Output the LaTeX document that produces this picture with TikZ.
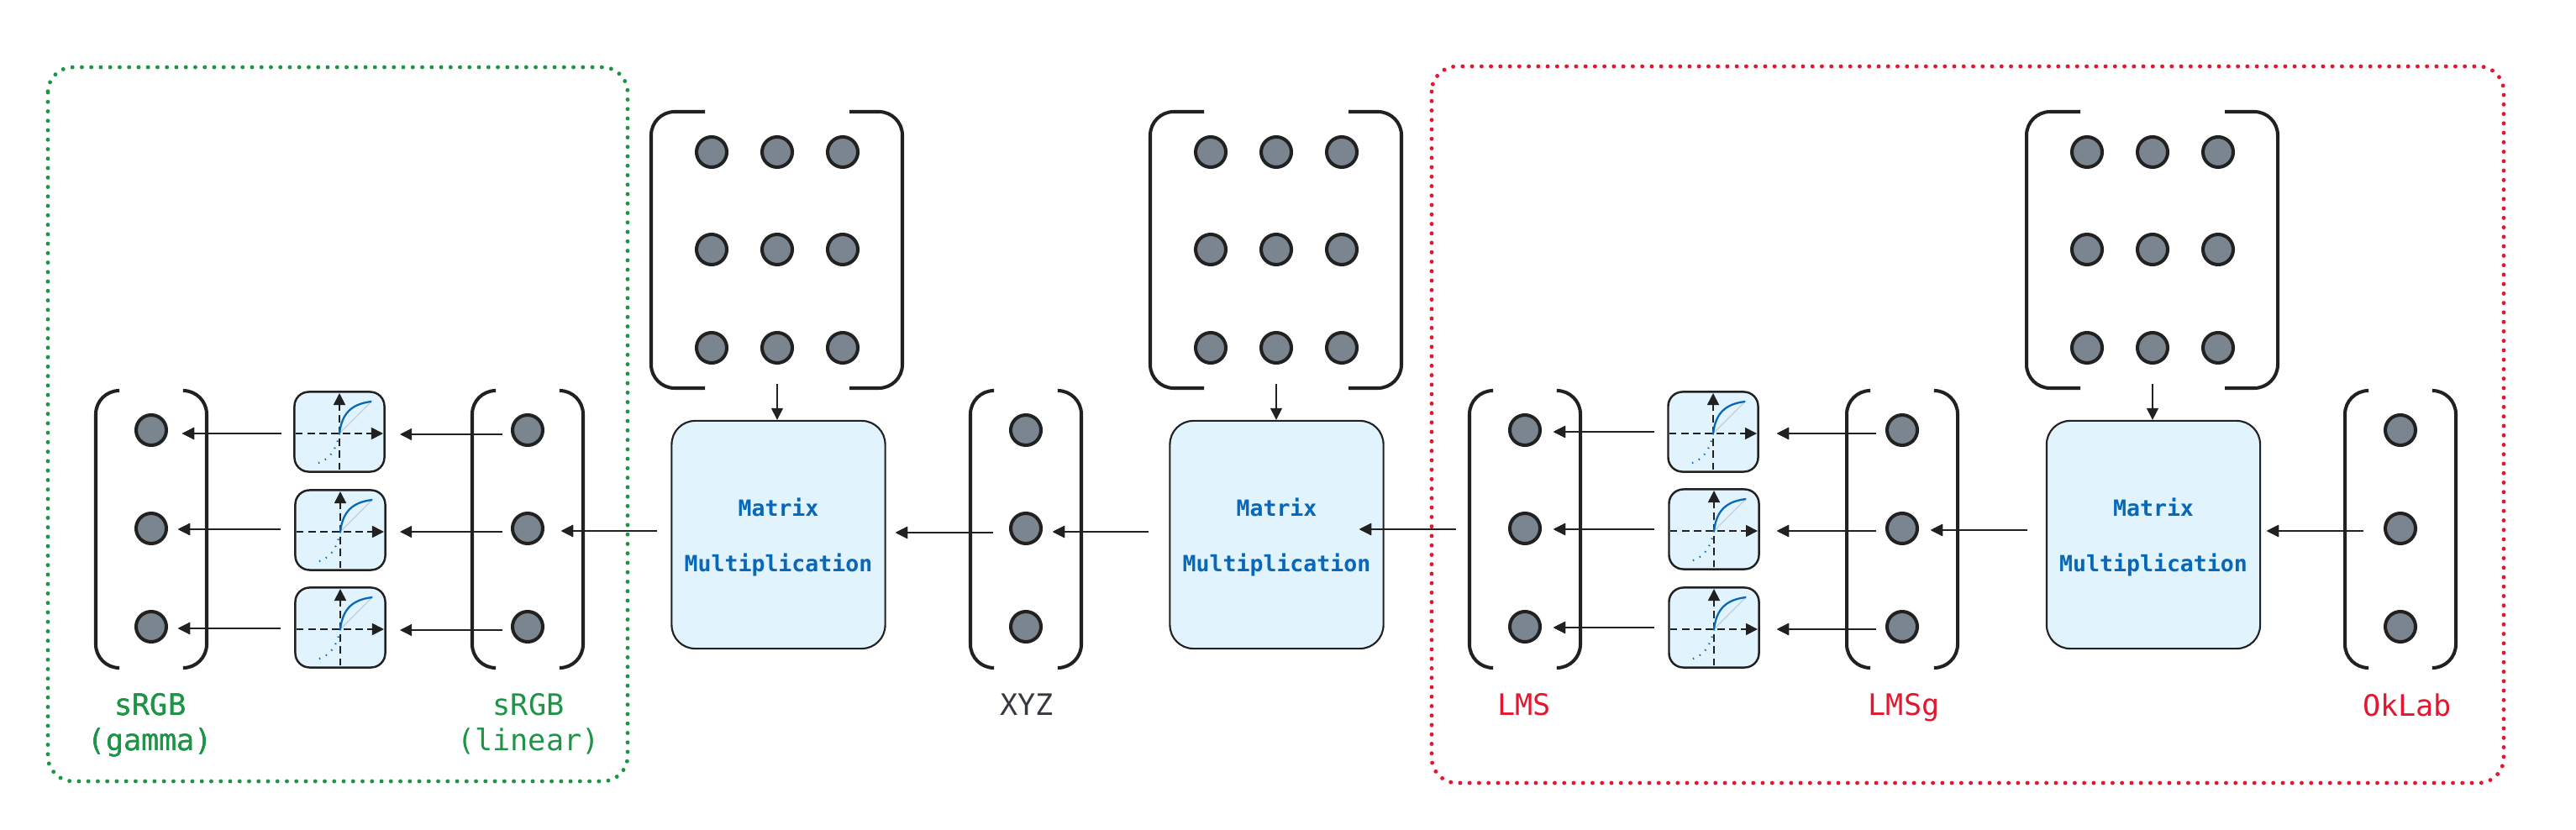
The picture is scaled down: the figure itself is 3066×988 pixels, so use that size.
\documentclass[tikz,border=0pt]{standalone}
\usepackage{fontspec}
\setmonofont{DejaVu Sans Mono}
\usetikzlibrary{arrows.meta,positioning,calc}
\definecolor{cInk}{HTML}{212121}
\definecolor{cDot}{HTML}{7B8590}
\definecolor{cFill}{HTML}{E1F3FD}
\definecolor{cBlue}{HTML}{0767B8}
\definecolor{cGreen}{HTML}{1E9447}
\definecolor{cRed}{HTML}{E3172F}
\definecolor{cSlate}{HTML}{343A40}
\definecolor{cDiag}{HTML}{C5CDD5}
\tikzset{
  x=0.01cm, y=-0.01cm,
  >={Triangle[length=0.14cm, width=0.14cm]},
  font=\ttfamily,
  entry/.style={circle, draw=cInk, fill=cDot, line width=1.15pt, minimum size=0.36cm, inner sep=0pt},
  mulbox/.style={draw=cInk, fill=cFill, rounded corners=0.28cm, line width=0.6pt,
                 minimum width=2.54cm, minimum height=2.71cm, inner sep=0pt},
  mullbl/.style={font=\ttfamily\bfseries\fontsize{7.55pt}{9pt}\selectfont, text=cBlue, anchor=base, inner sep=0pt},
  curvebox/.style={draw=cInk, fill=cFill, rounded corners=0.17cm, line width=0.7pt,
                   minimum width=1.07cm, minimum height=0.95cm, inner sep=0pt},
  brk/.style={draw=cInk, line width=1.15pt, rounded corners=0.28cm},
  arr/.style={->, draw=cInk, line width=0.35pt},
  axis/.style={->, draw=cInk, line width=0.5pt, dash pattern=on 2.4pt off 1.6pt},
  region/.style={line width=1.4pt, dash pattern=on 0pt off 3.2pt, line cap=round, rounded corners=0.3cm},
  veclbl/.style={font=\ttfamily\fontsize{10pt}{11.8pt}\selectfont, align=center, anchor=north, inner sep=0pt},
}
% one vector with brackets, dots named <name>1..3
\newcommand{\vecdots}[2]{%
  \draw[brk] (#2-40,465) -| (#2-66,795) -- (#2-40,795);
  \draw[brk] (#2+39,465) -- (#2+66,465) |- (#2+39,795);
  \foreach \i/\yy in {1/512,2/629,3/746}
    \node[entry] (#1\i) at (#2,\yy) {};
}
% 3x3 matrix with brackets
\newcommand{\matdots}[2]{%
  \draw[brk] (#2-86,133) -| (#2-150,462) -- (#2-86,462);
  \draw[brk] (#2+86,133) -- (#2+149,133) |- (#2+86,462);
  \foreach \r/\yy in {1/181,2/297,3/414}
    \foreach \c/\xx in {1/-78,2/0,3/78}
      \node[entry] (#1\r\c) at (#2+\xx,\yy) {};
}
% small transfer curve box
\newcommand{\curvebox}[3]{%
  \node[curvebox] (#1) at (#2,#3-2) {};
  \draw[draw=cDiag, line width=0.35pt] (#2,#3) -- (#2+39,#3-39);
  \draw[axis] (#2-52,#3) -- (#2+52,#3);
  \draw[axis] (#2,#3+43) -- (#2,#3-48);
  \draw[cBlue, line width=0.65pt] (#2,#3) .. controls (#2+3,#3-24) and (#2+14,#3-35) .. (#2+38,#3-38);
  \draw[cBlue, line width=0.6pt, dash pattern=on 0.4pt off 2.1pt] (#2,#3) .. controls (#2-4,#3+20) and (#2-12,#3+33) .. (#2-32,#3+37);
}
% free arrow between two named coordinates
\newcommand{\harrow}[4]{%
  \coordinate (#1s) at (#2,#4);
  \coordinate (#1e) at (#3,#4);
  \draw[arr] (#1s) -- (#1e);
}
\begin{document}
\begin{tikzpicture}
  \useasboundingbox (0,0) rectangle (3066,988);
  % regions
  \draw[region, draw=cGreen] (57,80) rectangle (747,930);
  \draw[region, draw=cRed] (1704,79) rectangle (2980,932);
  % vectors
  \vecdots{gam}{180}
  \vecdots{lin}{628}
  \vecdots{xyz}{1221}
  \vecdots{lms}{1815}
  \vecdots{lmg}{2264}
  \vecdots{okl}{2857}
  % matrices
  \matdots{ma}{925}
  \matdots{mb}{1519}
  \matdots{mc}{2562}
  % multiply boxes
  \node[mulbox] (mula) at (926.5,636.5) {};
  \node[mulbox] (mulb) at (1519.5,636.5) {};
  \node[mulbox] (mulc) at (2563,636.5) {};
  \foreach \m in {mula,mulb,mulc} {
    \node[mullbl] (\m t) at ($(\m)+(0,-22.5)$) {Matrix};
    \node[mullbl] (\m b) at ($(\m)+(0,43.5)$) {Multiplication};
  }
  % curves
  \curvebox{ca1}{404}{516}
  \curvebox{ca2}{405}{633}
  \curvebox{ca3}{405}{749}
  \curvebox{cb1}{2039}{516}
  \curvebox{cb2}{2040}{632}
  \curvebox{cb3}{2040}{749}
  % matrix to multiply
  \coordinate (mas) at (925,457);
  \coordinate (mbs) at (1519,457);
  \coordinate (mcs) at (2562,457);
  \draw[arr] (mas) -- (mula.north -| mas);
  \draw[arr] (mbs) -- (mulb.north -| mbs);
  \draw[arr] (mcs) -- (mulc.north -| mcs);
  % left group
  \foreach \i/\yy in {1/517,2/633,3/750}
    \harrow{la\i}{598}{476}{\yy}
  \harrow{ga1}{335}{217}{516}
  \harrow{ga2}{334}{212}{630}
  \harrow{ga3}{334}{212}{748}
  % right group
  \foreach \i/\yy in {1/516,2/632,3/749} {
    \harrow{ra\i}{2233}{2115}{\yy}
    \harrow{sa\i}{1969}{1849}{\yy-2}
  }
  % chain
  \harrow{c1}{782}{668}{632}
  \harrow{c2}{1182}{1066}{634}
  \harrow{c3}{1367}{1253}{633}
  \harrow{c4}{1733}{1618}{630}
  \harrow{c5}{2413}{2298}{631}
  \harrow{c6}{2813}{2698}{632}
  % labels
  \node[veclbl, text=cGreen] (lgam) at (179,825) {sRGB\\(gamma)};
  \node[veclbl, text=cGreen] (llin) at (629,825) {sRGB\\(linear)};
  \node[veclbl, text=cSlate] (lxyz) at (1222,825) {XYZ};
  \node[veclbl, text=cRed] (llms) at (1814,825) {LMS};
  \node[veclbl, text=cRed] (llmg) at (2266,825) {LMSg};
  \node[veclbl, text=cRed] (lokl) at (2865,825) {OkLab};
\end{tikzpicture}
\end{document}
